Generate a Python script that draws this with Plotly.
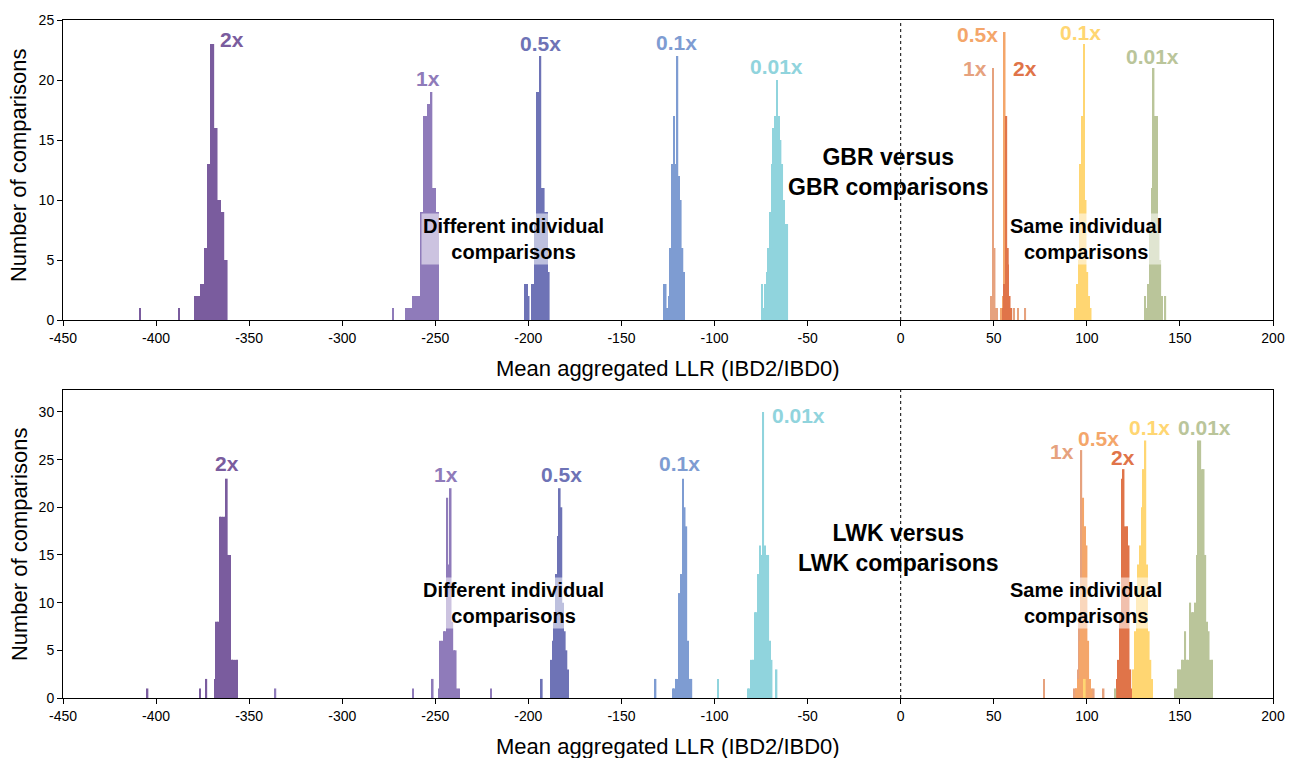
import plotly.graph_objects as go

# ---------------- data (bin width 0.9 LLR units) ----------------
BIN_W = 0.9

# top panel: GBR vs GBR
top_series = {
    "2x":    dict(start=-379.6, counts=[2,2,2,2,3,3,6,6,13,13,23,23,16,16,10,10,9,9,5,5]),
    "1x":    dict(start=-266.0, counts=[1,1,1,1,2,2,2,2,2,9,9,17,17,18,18,19,11,11,9,9]),
    "0.5x":  dict(start=-202.1, counts=[3,3,2,0,3,3,8,19,19,22,11,11,9,9,4]),
    "0.1x":  dict(start=-127.6, counts=[3,3,1,2,6,13,17,13,22,12,10,6,4]),
    "0.01x": dict(start=-74.9,  counts=[3,1,3,4,6,9,13,16,17,20,17,15,13,10,8,8]),
    "1x s":  dict(start=48.2,   counts=[2,21,6,1]),
    "0.5x s":dict(start=53.6,   counts=[1,2,24,5,2,1]),
    "2x s":  dict(start=54.5,   counts=[1,3,17,6,2,1]),
    "0.1x s":dict(start=93.5,   counts=[1,3,5,13,17,23,10,4,2,1]),
    "0.01x s":dict(start=130.9, counts=[2,1,3,8,11,21,17,17,8,5,2,0,2]),
}
top_outliers = {
    "2x":   ([-408.6, -387.6], [1, 1]),
    "1x":   ([-272.7], [1]),
    "1x s": ([51.7, 60.9, 63.0, 66.9], [1, 1, 1, 1]),
}

# bottom panel: LWK vs LWK
bot_series = {
    "2x":    dict(start=-368.75, counts=[2,8,8,19,19,19,19,23,15,15,4,4,4,4]),
    "1x":    dict(start=-248.5,  counts=[1,6,6,7,7,21,14,22,8,5,5,1,1]),
    "0.5x":  dict(start=-188.1,  counts=[4,6,8,13,17,22,20,10,7,5,3]),
    "0.1x":  dict(start=-122.8,  counts=[1,1,2,2,11,13,23,20,18,6,2,2]),
    "0.01x": dict(start=-82.4,   counts=[1,1,4,4,9,9,13,16,15,30,16,15,15,6,4]),
    "1x s":  dict(start=93.0,    counts=[1,1,3,8,26,14,8,4,2,1]),
    "0.5x s":dict(start=94.0,    counts=[1,2,6,12,21,18,16,6,2,1]),
    "2x s":  dict(start=115.7,   counts=[2,4,9,23,24,18,18,16,3,1]),
    "0.1x s":dict(start=124.7,   counts=[3,7,11,14,16,20,24,27,14,7,4,2]),
    "0.01x s":dict(start=147.0,  counts=[1,1,3,3,4,4,7,4,4,10,9,9,10,15,27,27,24,24,15,8,7,4,4]),
}
bot_outliers = {
    "2x":    ([-404.6, -376.3, -373.0], [1, 1, 2]),
    "1x":    ([-335.9, -262.0, -251.4, -220.0], [1, 1, 2, 1]),
    "0.5x":  ([-192.8], [2]),
    "0.1x":  ([-131.7], [2]),
    "0.01x": ([-98.2, -66.7], [2, 3]),
    "1x s":  ([77.0, 103.7, 109.0, 116.6], [2, 1, 1, 1]),
    "0.1x s":([98.9], [2]),
    "0.01x s":([115.3], [1]),
}

x_ticks = list(range(-450, 201, 50))
x_ticktext = [str(v) for v in x_ticks]   # plain hyphen-minus as in the original

colors = {
    "2x": "#7A5C9E", "1x": "#8F7BBA", "0.5x": "#6E73B6", "0.1x": "#7E9CD2", "0.01x": "#90D4DD",
    "1x s": "#E6A27E", "0.5x s": "#F4A66A", "2x s": "#E07449", "0.1x s": "#FFD672", "0.01x s": "#BAC59A",
}

order = ["2x", "1x", "0.5x", "0.1x", "0.01x", "1x s", "0.5x s", "2x s", "0.1x s", "0.01x s"]

fig = go.Figure()

def add_panel(series, outliers, xa, ya):
    for key in order:
        s = series[key]
        xs = [s["start"] + (i + 0.5) * BIN_W for i in range(len(s["counts"]))]
        ys = list(s["counts"])
        if key in outliers:
            xs += outliers[key][0]
            ys += outliers[key][1]
        fig.add_trace(go.Bar(x=xs, y=ys, width=BIN_W, marker=dict(color=colors[key], line=dict(width=0)),
                             xaxis=xa, yaxis=ya, showlegend=False, hoverinfo="skip"))

add_panel(top_series, top_outliers, "x", "y")
add_panel(bot_series, bot_outliers, "x2", "y2")

FONT = "Liberation Sans, Arial, sans-serif"
axis_font = dict(family=FONT, size=14, color="black")
xcommon = dict(range=[-450, 200], tickvals=x_ticks, ticktext=x_ticktext, ticks="outside", ticklen=5,
               tickwidth=1, tickcolor="black", showline=True, linecolor="black", linewidth=1, mirror=True,
               showgrid=False, zeroline=False, tickfont=axis_font)
ycommon = dict(ticks="outside", ticklen=5, tickwidth=1, tickcolor="black", showline=True, linecolor="black",
               linewidth=1, mirror=True, showgrid=False, zeroline=False, tickfont=axis_font)

fig.update_layout(
    width=1297, height=758, barmode="overlay", plot_bgcolor="white", paper_bgcolor="white",
    margin=dict(l=63, r=21, t=20, b=60),
    xaxis=dict(domain=[0, 1], anchor="y", **xcommon),
    yaxis=dict(domain=[0.5575, 1], anchor="x", range=[0, 25], tickvals=[0, 5, 10, 15, 20, 25], **ycommon),
    xaxis2=dict(domain=[0, 1], anchor="y2", **xcommon),
    yaxis2=dict(domain=[0, 0.4543], anchor="x2", range=[0, 32.3], tickvals=[0, 5, 10, 15, 20, 25, 30], **ycommon),
    font=dict(family=FONT),
)

# dotted zero lines
fig.add_shape(type="line", xref="x", yref="y", x0=0, x1=0, y0=0, y1=25, line=dict(color="black", width=1, dash="dot"))
fig.add_shape(type="line", xref="x2", yref="y2", x0=0, x1=0, y0=0, y1=32.3, line=dict(color="black", width=1, dash="dot"))

title_font = dict(family=FONT, size=22, color="black")
annots = []
annots.append(dict(text="Mean aggregated LLR (IBD2/IBD0)", xref="paper", yref="paper", x=0.5, y=(698 - 368) / 678,
                   showarrow=False, font=title_font, xanchor="center", yanchor="middle"))
annots.append(dict(text="Mean aggregated LLR (IBD2/IBD0)", xref="paper", yref="paper", x=0.5, y=(698 - 746) / 678,
                   showarrow=False, font=title_font, xanchor="center", yanchor="middle"))
annots.append(dict(text="Number of comparisons", xref="paper", yref="paper", x=(19 - 63) / 1213, y=(698 - 165) / 678,
                   showarrow=False, font=title_font, textangle=-90, xanchor="center", yanchor="middle"))
annots.append(dict(text="Number of comparisons", xref="paper", yref="paper", x=(19 - 63) / 1213, y=(698 - 544) / 678,
                   showarrow=False, font=title_font, textangle=-90, xanchor="center", yanchor="middle"))

lab_font = lambda c: dict(family=FONT, size=21, color=c)
top_labels = [("2x", -359.0, 23.4, "2x"), ("1x", -254.0, 20.1, "1x"), ("0.5x", -193.6, 23.05, "0.5x"),
              ("0.1x", -120.2, 23.1, "0.1x"), ("0.01x", -66.7, 21.1, "0.01x"), ("0.5x", 41.4, 23.8, "0.5x s"),
              ("1x", 39.8, 21.0, "1x s"), ("2x", 66.6, 21.0, "2x s"), ("0.1x", 96.5, 23.96, "0.1x s"),
              ("0.01x", 135.4, 22.0, "0.01x s")]
for t, xv, yv, k in top_labels:
    annots.append(dict(text="<b>%s</b>" % t, x=xv, y=yv, xref="x", yref="y", showarrow=False,
                       font=lab_font(colors[k]), xanchor="center", yanchor="middle"))
bot_labels = [("2x", -361.8, 24.6, "2x"), ("1x", -244.1, 23.4, "1x"), ("0.5x", -182.3, 23.4, "0.5x"),
              ("0.1x", -118.8, 24.6, "0.1x"), ("0.01x", -55.0, 29.6, "0.01x"), ("1x", 86.7, 25.9, "1x s"),
              ("0.5x", 106.5, 27.2, "0.5x s"), ("2x", 119.6, 25.2, "2x s"), ("0.1x", 133.6, 28.4, "0.1x s"),
              ("0.01x", 163.3, 28.4, "0.01x s")]
for t, xv, yv, k in bot_labels:
    annots.append(dict(text="<b>%s</b>" % t, x=xv, y=yv, xref="x2", yref="y2", showarrow=False,
                       font=lab_font(colors[k]), xanchor="center", yanchor="middle"))

big = dict(family=FONT, size=23, color="black")
mid = dict(family=FONT, size=20, color="black")
annots.append(dict(text="<b>GBR versus<br>GBR comparisons</b>", x=-6.6, y=12.3, xref="x", yref="y", showarrow=False,
                   font=big, xanchor="center", yanchor="middle"))
annots.append(dict(text="<b>LWK versus<br>LWK comparisons</b>", x=-1.4, y=15.7, xref="x2", yref="y2", showarrow=False,
                   font=big, xanchor="center", yanchor="middle"))
bg = "rgba(255,255,255,0.55)"
annots.append(dict(text="<b>Different individual<br>comparisons</b>", x=-208, y=6.75, xref="x", yref="y", showarrow=False,
                   font=mid, xanchor="center", yanchor="middle", bgcolor=bg))
annots.append(dict(text="<b>Same individual<br>comparisons</b>", x=99.7, y=6.75, xref="x", yref="y", showarrow=False,
                   font=mid, xanchor="center", yanchor="middle", bgcolor=bg))
annots.append(dict(text="<b>Different individual<br>comparisons</b>", x=-208, y=9.97, xref="x2", yref="y2", showarrow=False,
                   font=mid, xanchor="center", yanchor="middle", bgcolor=bg))
annots.append(dict(text="<b>Same individual<br>comparisons</b>", x=99.7, y=9.97, xref="x2", yref="y2", showarrow=False,
                   font=mid, xanchor="center", yanchor="middle", bgcolor=bg))

fig.update_layout(annotations=annots)
fig.write_html("out.html")
